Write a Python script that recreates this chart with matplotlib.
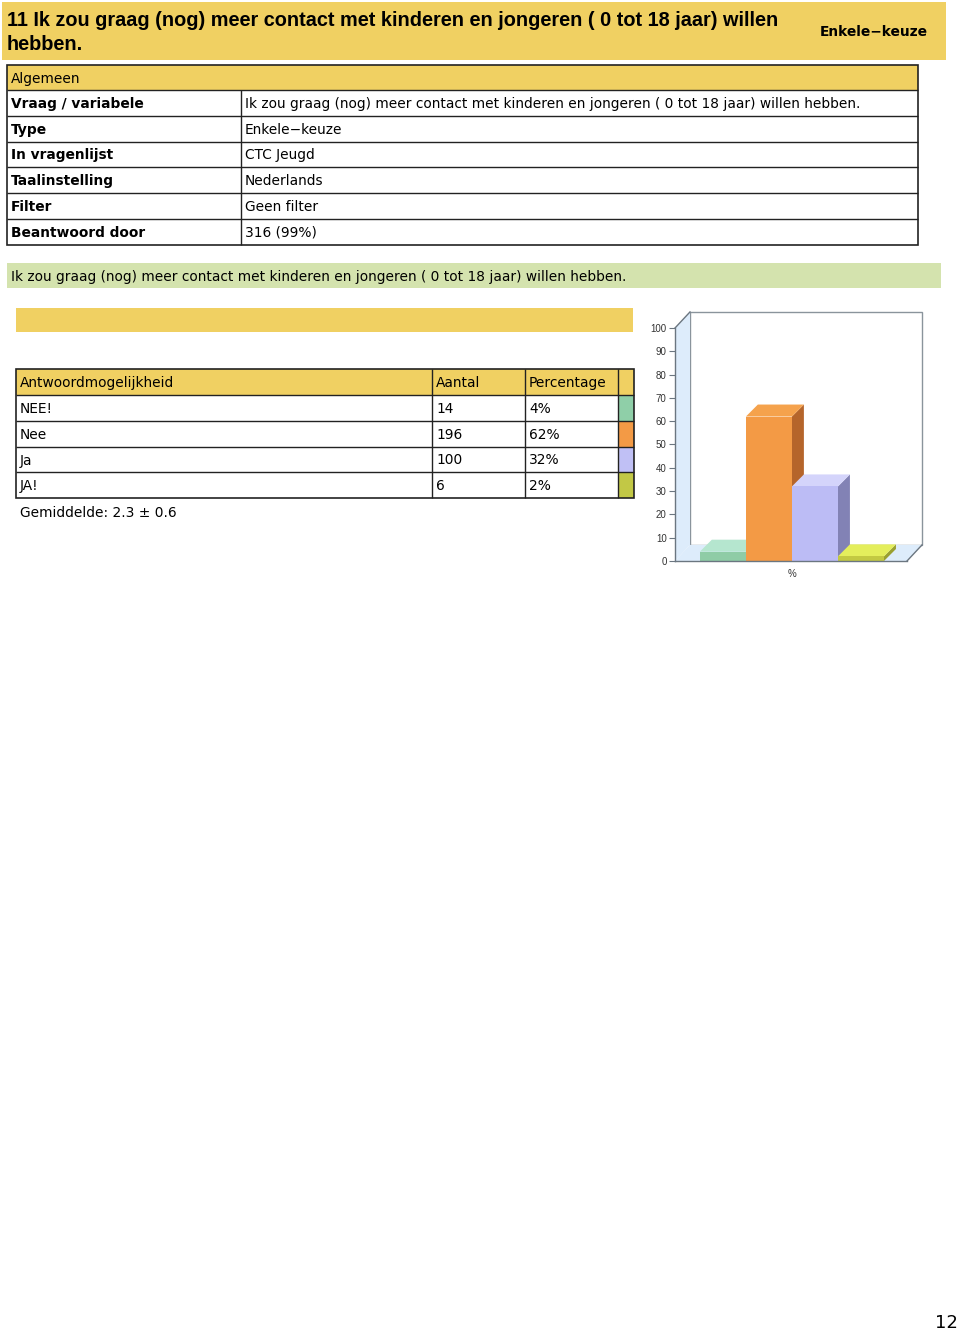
import matplotlib
matplotlib.use("Agg")
import matplotlib.pyplot as plt
from matplotlib.patches import Rectangle, Polygon

# ---- data ----
title_lines = ["11 Ik zou graag (nog) meer contact met kinderen en jongeren ( 0 tot 18 jaar) willen",
               "hebben."]
question = "Ik zou graag (nog) meer contact met kinderen en jongeren ( 0 tot 18 jaar) willen hebben."
question_type = "Enkele\u2212keuze"

meta_labels = ["Vraag / variabele", "Type", "In vragenlijst", "Taalinstelling", "Filter", "Beantwoord door"]
meta_values = [question, question_type, "CTC Jeugd", "Nederlands", "Geen filter", "316 (99%)"]

answers = ["NEE!", "Nee", "Ja", "JA!"]
counts = [14, 196, 100, 6]
percentages = [4, 62, 32, 2]
mean_text = "Gemiddelde: 2.3 \u00b1 0.6"

front_colors = ["#8fcca6", "#f39a45", "#bcbcf5", "#c3c942"]
top_colors = ["#b5e6cf", "#f5a24c", "#d4d4fb", "#e4ee5c"]
side_colors = ["#6fa886", "#b5652b", "#8282b5", "#9aa030"]
swatch_colors = ["#8fcfa8", "#f39a45", "#c0c0f5", "#c2c845"]

YELLOW = "#f0d062"
GREEN = "#d4e3ae"

W, H = 960, 1331
fig = plt.figure(figsize=(W / 100, H / 100), dpi=100)
page = fig.add_axes([0, 0, 1, 1])
page.set_xlim(0, W)
page.set_ylim(H, 0)
page.axis("off")

FS = 9.9
SANS = "DejaVu Sans"
TOFF = 1.0  # small downward nudge of cell text


def rect(x0, y0, x1, y1, fc="none", ec="none", lw=1.0, z=1):
    page.add_patch(Rectangle((x0, y0), x1 - x0, y1 - y0, facecolor=fc, edgecolor=ec, linewidth=lw, zorder=z))


def hline(x0, x1, y, lw=1.0, c="#222222"):
    page.plot([x0, x1], [y, y], color=c, lw=lw, zorder=3, solid_capstyle="butt")


def vline(x, y0, y1, lw=1.0, c="#222222"):
    page.plot([x, x], [y0, y1], color=c, lw=lw, zorder=3, solid_capstyle="butt")


# ---- title band ----
rect(2, 2, 946, 60, fc=YELLOW)
page.text(7, 21, title_lines[0], fontsize=14.3, fontweight="bold", family="Liberation Sans", va="center", ha="left")
page.text(7, 45, title_lines[1], fontsize=14.3, fontweight="bold", family="Liberation Sans", va="center", ha="left")
page.text(928, 32, question_type, fontsize=9.9, fontweight="bold", family=SANS, va="center", ha="right")

# ---- algemeen table ----
tx0, tx1, tcol = 7, 918, 241
rect(tx0, 65, tx1, 90, fc=YELLOW)
page.text(11, 77.5 + TOFF, "Algemeen", fontsize=FS, family=SANS, va="center")
row_top = 90
row_h = 25.8
for i, (lab, val) in enumerate(zip(meta_labels, meta_values)):
    y0 = row_top + i * row_h
    yc = y0 + row_h / 2 + TOFF
    page.text(11, yc, lab, fontsize=FS, family=SANS, fontweight="bold", va="center")
    page.text(245, yc, val, fontsize=FS, family=SANS, va="center")
    hline(tx0, tx1, y0)
t_bottom = row_top + len(meta_labels) * row_h
rect(tx0, 65, tx1, t_bottom, ec="#222222", lw=1.2, z=3)
vline(tcol, row_top, t_bottom)

# ---- question band ----
rect(7, 263, 941, 288, fc=GREEN)
page.text(11, 275.5 + TOFF, question, fontsize=FS, family=SANS, va="center")

# ---- yellow bar ----
rect(16, 308, 633, 332, fc=YELLOW)

# ---- answer table ----
ax0, ax1 = 16, 634
c1, c2, c3 = 432, 525, 618
head_top, head_bot = 369, 395
rect(ax0, head_top, ax1, head_bot, fc=YELLOW)
hy = (head_top + head_bot) / 2 + TOFF
page.text(20, hy, "Antwoordmogelijkheid", fontsize=FS, family=SANS, va="center")
page.text(436, hy, "Aantal", fontsize=FS, family=SANS, va="center")
page.text(529, hy, "Percentage", fontsize=FS, family=SANS, va="center")
arow_h = 25.8
for i, (a, n, p) in enumerate(zip(answers, counts, percentages)):
    y0 = head_bot + i * arow_h
    yc = y0 + arow_h / 2 + TOFF
    page.text(20, yc, a, fontsize=FS, family=SANS, va="center")
    page.text(436, yc, str(n), fontsize=FS, family=SANS, va="center")
    page.text(529, yc, f"{p}%", fontsize=FS, family=SANS, va="center")
    rect(c3, y0, ax1, y0 + arow_h, fc=swatch_colors[i])
    hline(ax0, ax1, y0)
a_bottom = head_bot + len(answers) * arow_h
rect(ax0, head_top, ax1, a_bottom, ec="#222222", lw=1.2, z=3)
for cx in (c1, c2, c3):
    vline(cx, head_top, a_bottom)
page.text(20, 512 + TOFF, mean_text, fontsize=FS, family=SANS, va="center")

# ---- page number ----
page.text(958, 1323, "12", fontsize=13, family=SANS, va="center", ha="right")

# ---- 3D-style bar chart ----
left_px, right_px = 675, 907
top_px, bot_px = 328, 561
ax = fig.add_axes([left_px / W, 1 - bot_px / H, (right_px - left_px) / W, (bot_px - top_px) / H])
xmin, xmax = -1.04, 4.0
ymin, ymax = 0, 100
ax.set_xlim(xmin, xmax)
ax.set_ylim(ymin, ymax)
ax.patch.set_alpha(0)

DX, DY = 0.326, 6.9      # wall depth in data units
bdx, bdy = 0.26, 5.15    # bar depth in data units
WALL = "#ddecfb"
EDGE = "#6b7680"

# back wall
ax.add_patch(Rectangle((xmin + DX, ymin + DY), xmax - xmin, ymax - ymin, facecolor="white",
                       edgecolor="#8a949c", lw=1.0, clip_on=False, zorder=0))
# floor and left wall
ax.add_patch(Polygon([(xmin, 0), (xmax, 0), (xmax + DX, DY), (xmin + DX, DY)], closed=True,
                     facecolor=WALL, edgecolor="none", clip_on=False, zorder=1))
ax.add_patch(Polygon([(xmin, 0), (xmin, 100), (xmin + DX, 100 + DY), (xmin + DX, DY)], closed=True,
                     facecolor=WALL, edgecolor="none", clip_on=False, zorder=1))
ax.plot([xmin, xmin + DX], [100, 100 + DY], color=EDGE, lw=1.0, clip_on=False, zorder=2)
ax.plot([xmax, xmax + DX], [0, DY], color=EDGE, lw=1.0, clip_on=False, zorder=2)

xs = list(range(len(percentages)))
for i, (x, v) in enumerate(zip(xs, percentages)):
    z = 3 + i
    xl, xr = x - 0.5, x + 0.5
    ax.add_patch(Polygon([(xr, 0), (xr, v), (xr + bdx, v + bdy), (xr + bdx, bdy)], closed=True,
                         facecolor=side_colors[i], edgecolor="none", clip_on=False, zorder=z))
    ax.add_patch(Polygon([(xl, v), (xr, v), (xr + bdx, v + bdy), (xl + bdx, v + bdy)], closed=True,
                         facecolor=top_colors[i], edgecolor="none", clip_on=False, zorder=z))
    ax.bar(x, v, width=1.0, color=front_colors[i], zorder=z, clip_on=False)

for s in ("top", "right"):
    ax.spines[s].set_visible(False)
for s in ("left", "bottom"):
    ax.spines[s].set_color(EDGE)
    ax.spines[s].set_linewidth(1.0)
    ax.spines[s].set_zorder(10)
ax.set_yticks(range(0, 101, 10))
ax.tick_params(axis="y", direction="out", length=4, width=0.8, color=EDGE, labelsize=7, labelcolor="#333333", pad=2)
ax.set_xticks([1.5])
ax.set_xticklabels(["%"])
ax.tick_params(axis="x", length=0, labelsize=7, labelcolor="#333333", pad=6)
for lbl in ax.get_yticklabels() + ax.get_xticklabels():
    lbl.set_family("Liberation Sans")

fig.savefig("out.png", dpi=100)
